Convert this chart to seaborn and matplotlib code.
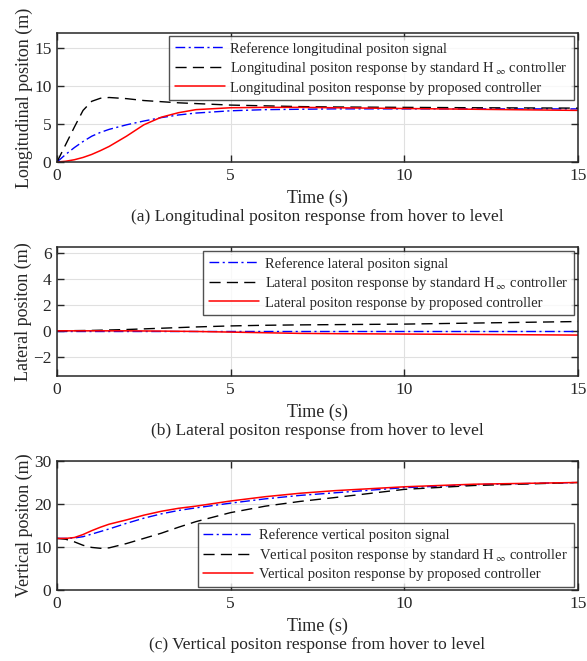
import matplotlib
matplotlib.use("Agg")
import matplotlib.pyplot as plt
import seaborn as sns
import pandas as pd

# ---- (a) longitudinal position ----
t_lon = [0, 0.25, 0.5, 0.75, 1, 1.25, 1.5, 2, 2.5, 3, 3.5, 4, 5, 6, 7, 8, 10, 12, 15]
lon_ref = [0, 1.0, 1.9, 2.7, 3.4, 3.9, 4.3, 4.9, 5.4, 5.85, 6.2, 6.45, 6.75, 6.9, 6.95, 7.0, 7.0, 7.0, 7.0]
lon_hinf = [0, 2.3, 4.6, 6.8, 8.0, 8.4, 8.5, 8.35, 8.1, 7.95, 7.8, 7.7, 7.5, 7.4, 7.3, 7.25, 7.2, 7.15, 7.1]
lon_prop = [0, 0.1, 0.3, 0.6, 1.0, 1.5, 2.05, 3.4, 4.9, 5.9, 6.5, 6.9, 7.15, 7.2, 7.2, 7.15, 7.05, 6.95, 6.8]

# ---- (b) lateral position ----
t_lat = [0, 1, 2, 3, 4, 5, 6, 7, 8, 10, 12, 15]
lat_ref = [0, 0, 0, 0, 0, 0, 0, 0, 0, 0, 0, 0]
lat_hinf = [0, 0.03, 0.1, 0.2, 0.3, 0.38, 0.43, 0.46, 0.48, 0.52, 0.6, 0.72]
lat_prop = [0, 0, 0, -0.02, -0.05, -0.1, -0.15, -0.2, -0.22, -0.25, -0.28, -0.33]

# ---- (c) vertical position ----
t_ver = [0, 0.25, 0.5, 0.75, 1, 1.25, 1.5, 2, 2.5, 3, 3.5, 4, 5, 6, 7, 8, 10, 12, 15]
ver_ref = [12, 12, 12.1, 12.4, 13.0, 13.6, 14.2, 15.5, 16.7, 17.7, 18.5, 19.1, 20.2, 21.2, 22.0, 22.6, 23.8, 24.5, 25.0]
ver_hinf = [12, 11.8, 11.2, 10.4, 9.9, 9.7, 9.8, 10.8, 12.0, 13.2, 14.6, 15.9, 18.0, 19.5, 20.6, 21.5, 23.4, 24.3, 25.0]
ver_prop = [12, 12, 12.2, 12.9, 13.8, 14.6, 15.3, 16.3, 17.4, 18.3, 19.0, 19.5, 20.7, 21.7, 22.5, 23.1, 24.0, 24.6, 25.0]

x_ticks = [0, 5, 10, 15]

sns.set_style("ticks")
plt.rcParams["font.family"] = ["Liberation Serif", "DejaVu Serif"]
plt.rcParams["mathtext.fontset"] = "stix"

fig = plt.figure(figsize=(5.87, 6.61), dpi=100)

panels = [
    dict(bottom=0.7549, t=t_lon, ref=lon_ref, hinf=lon_hinf, prop=lon_prop,
         ylim=(0, 17), yticks=[0, 5, 10, 15], ylabel="Longitudinal positon (m)",
         word="longitudinal", Word="Longitudinal",
         caption="(a) Longitudinal positon response from hover to level",
         loc="upper right", anchor=(0.992, 0.977)),
    dict(bottom=0.4312, t=t_lat, ref=lat_ref, hinf=lat_hinf, prop=lat_prop,
         ylim=(-3.5, 6.5), yticks=[-2, 0, 2, 4, 6], ylabel="Lateral positon (m)",
         word="lateral", Word="Lateral",
         caption="(b) Lateral positon response from hover to level",
         loc="upper right", anchor=(0.992, 0.969)),
    dict(bottom=0.1074, t=t_ver, ref=ver_ref, hinf=ver_hinf, prop=ver_prop,
         ylim=(0, 30), yticks=[0, 10, 20, 30], ylabel="Vertical positon (m)",
         word="vertical", Word="Vertical",
         caption="(c) Vertical positon response from hover to level",
         loc="lower right", anchor=(0.992, 0.023)),
]

for p in panels:
    ax = fig.add_axes([0.0971, p["bottom"], 0.8876, 0.1952])
    df = pd.DataFrame({"t": p["t"], "ref": p["ref"], "hinf": p["hinf"], "prop": p["prop"]})
    sns.lineplot(data=df, x="t", y="ref", ax=ax, color="#0000ff", lw=1.0,
                 label=f"Reference {p['word']} positon signal")
    ax.lines[-1].set_dashes([7, 2.5, 1.5, 2.5])
    sns.lineplot(data=df, x="t", y="hinf", ax=ax, color="black", lw=1.0,
                 label=f"{p['Word']} positon response by standard H$_{{\\;\\infty}}$ controller")
    ax.lines[-1].set_dashes([8, 4.5])
    sns.lineplot(data=df, x="t", y="prop", ax=ax, color="#ff0000", lw=1.1,
                 label=f"{p['Word']} positon response by proposed controller")

    ax.set_xlim(0, 15)
    ax.set_ylim(*p["ylim"])
    ax.set_xticks(x_ticks)
    ax.set_yticks(p["yticks"])
    ax.grid(True, color="#e0e0e0", lw=0.8)
    ax.set_axisbelow(True)
    ax.tick_params(direction="in", top=True, right=True, length=5, width=1,
                   labelsize=12.5, colors="#262626", pad=4)
    for s in ax.spines.values():
        s.set_color("#262626")
        s.set_linewidth(1.1)
    ax.set_ylabel(p["ylabel"], fontsize=13, color="#262626", labelpad=1)
    ax.set_xlabel("")
    ax.annotate("Time (s)", xy=(0.5, 0), xycoords="axes fraction",
                xytext=(0, -36), textcoords="offset pixels",
                ha="center", va="center", fontsize=13, color="#262626")
    ax.annotate(p["caption"], xy=(0.5, 0), xycoords="axes fraction",
                xytext=(0, -55), textcoords="offset pixels",
                ha="center", va="center", fontsize=12.5, color="#262626")

    leg = ax.legend(loc=p["loc"], bbox_to_anchor=p["anchor"], borderaxespad=0,
                    fontsize=10.5, frameon=True, fancybox=False, handlelength=3.4,
                    handletextpad=0.4, labelspacing=0.3, borderpad=0.4)
    leg.get_frame().set_edgecolor("#262626")
    leg.get_frame().set_linewidth(1.0)
    for txt in leg.get_texts():
        txt.set_color("#262626")

fig.savefig("out.png", dpi=100)
